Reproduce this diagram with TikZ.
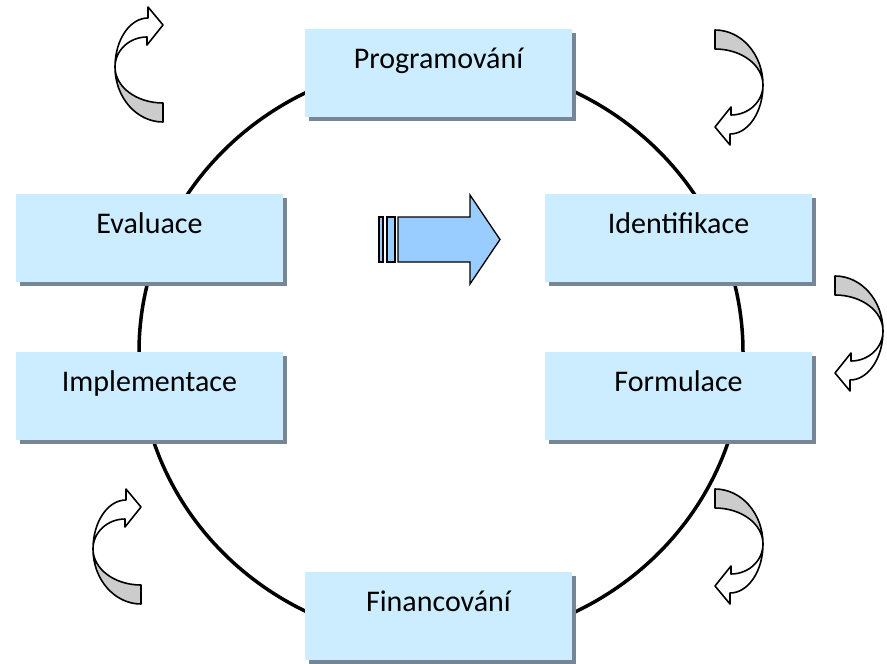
\documentclass[tikz,border=0pt]{standalone}
\usepackage{fontspec}
\setmainfont{Carlito}
\definecolor{boxfill}{RGB}{204,236,255}
\definecolor{shadowc}{RGB}{118,134,150}
\definecolor{arrowblue}{RGB}{153,204,255}
\definecolor{ribbongray}{RGB}{204,204,204}
\tikzset{
  box/.style={rectangle, fill=boxfill, minimum width=267pt, minimum height=88pt, inner sep=0pt,
    preaction={fill=shadowc, transform canvas={xshift=3.5pt,yshift=-3.5pt}}},
  lbl/.style={anchor=base, font=\fontsize{30}{36}\selectfont, inner sep=0pt},
  ring/.style={line width=3.5pt, black},
  ribbon/.style={draw=black, line width=1.6pt, line join=round},
  bigarrow/.style={draw=black, line width=1.3pt, fill=arrowblue, line join=miter}
}
\newcommand{\curvarrow}{%
  \filldraw[ribbon, fill=ribbongray] (-48,0) .. controls (-48,30.4) and (-26.5,55) .. (0,55) -- (0,36)
     .. controls (-26.5,36) and (-48,19.9) .. (-48,0) -- cycle;
  \filldraw[ribbon, fill=white] (-48,0) .. controls (-48,-27.1) and (-33.2,-49) .. (-15,-49) -- (-15,-60) -- (0,-42)
     -- (-16,-22) -- (-16,-30) .. controls (-33.7,-30) and (-48,-16.6) .. (-48,0) -- cycle;
}
\begin{document}
\begin{tikzpicture}[x=1pt,y=-1pt]
\useasboundingbox (0,0) rectangle (887,664);
% ring
\draw[ring] (441,352) ellipse [x radius=302pt, y radius=290pt];
% boxes
\node[box] (prog) at (438.5,73) {};
\node[box] (eval) at (149.5,238) {};
\node[box] (iden) at (678.5,238) {};
\node[box] (impl) at (149.5,396) {};
\node[box] (form) at (678.5,396) {};
\node[box] (fin) at (438.5,616) {};
\node[lbl] at ([yshift=-39.5pt]prog.north) {Programování};
\node[lbl] at ([yshift=-39.5pt]eval.north) {Evaluace};
\node[lbl] at ([yshift=-39.5pt]iden.north) {Identifikace};
\node[lbl] at ([yshift=-39.5pt]impl.north) {Implementace};
\node[lbl] at ([yshift=-39.5pt]form.north) {Formulace};
\node[lbl] at ([yshift=-39.5pt]fin.north) {Financování};
% central arrow
\filldraw[bigarrow] (379,217) rectangle (383,262);
\filldraw[bigarrow] (387,217) rectangle (395,262);
\filldraw[bigarrow] (398,217) -- (470,217) -- (470,195) -- (500,239.5) -- (470,284) -- (470,262) -- (398,262) -- cycle;
% curved arrows
\begin{scope}[shift={(163,67)}]\curvarrow\end{scope}
\begin{scope}[shift={(141,549)}]\curvarrow\end{scope}
\begin{scope}[shift={(715,85)},rotate=180]\curvarrow\end{scope}
\begin{scope}[shift={(835,331)},rotate=180]\curvarrow\end{scope}
\begin{scope}[shift={(715,544)},rotate=180]\curvarrow\end{scope}
\end{tikzpicture}
\end{document}
